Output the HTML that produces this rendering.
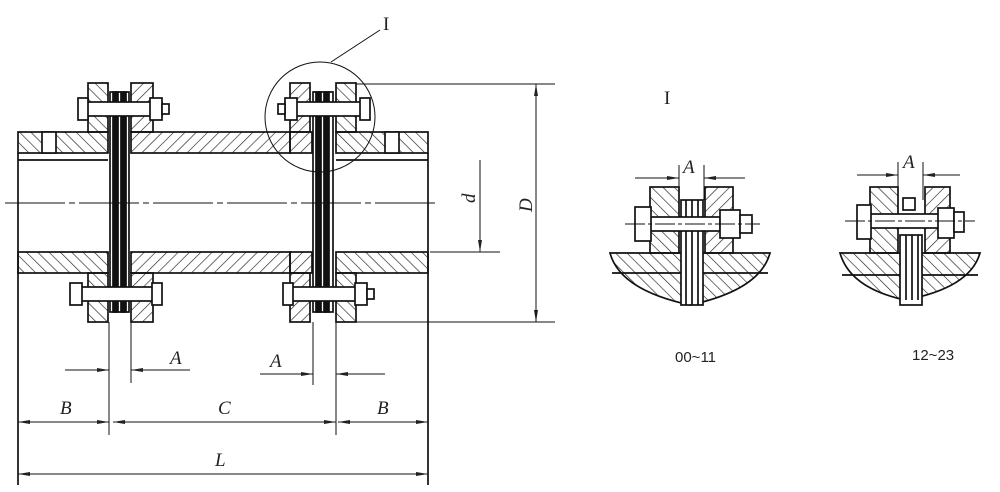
<!DOCTYPE html>
<html><head><meta charset="utf-8"><style>
html,body{margin:0;padding:0;background:#fff;}
svg{display:block;}
text{font-family:"Liberation Serif",serif;font-style:italic;font-size:19px;fill:#222;}
.n{font-style:normal;font-family:"Liberation Sans",sans-serif;font-size:15px;}
</style></head><body>
<svg width="1000" height="492" viewBox="0 0 1000 492" xmlns="http://www.w3.org/2000/svg">
<defs>
<pattern id="h" width="8" height="8" patternUnits="userSpaceOnUse" patternTransform="rotate(45)"><line x1="0" y1="0" x2="0" y2="8" stroke="#222" stroke-width="1.3"/></pattern>
<pattern id="h2" width="8" height="8" patternUnits="userSpaceOnUse" patternTransform="rotate(-45)"><line x1="0" y1="0" x2="0" y2="8" stroke="#222" stroke-width="1.3"/></pattern>
<marker id="a" markerWidth="12" markerHeight="6" refX="12" refY="3" orient="auto" markerUnits="userSpaceOnUse"><path d="M0,1 L12,3 L0,5z" fill="#222"/></marker>
</defs>
<g stroke="#111" stroke-width="1.7" fill="none">
<rect x="18" y="132" width="90" height="21" fill="url(#h2)"/>
<rect x="131" y="132" width="159" height="21" fill="url(#h)"/>
<rect x="336" y="132" width="92" height="21" fill="url(#h2)"/>
<rect x="18" y="252" width="90" height="21" fill="url(#h2)"/>
<rect x="131" y="252" width="159" height="21" fill="url(#h)"/>
<rect x="336" y="252" width="92" height="21" fill="url(#h2)"/>
<rect x="290" y="132" width="22" height="21" fill="url(#h)"/>
<rect x="290" y="252" width="22" height="21" fill="url(#h)"/>
<line x1="18" y1="160" x2="108" y2="160"/><line x1="336" y1="160" x2="428" y2="160"/>
<line x1="18" y1="153" x2="18" y2="485"/><line x1="428" y1="153" x2="428" y2="485"/>
<rect x="42" y="132" width="14" height="21" fill="#fff"/><rect x="385" y="132" width="14" height="21" fill="#fff"/>
<rect x="88" y="83" width="20" height="49" fill="url(#h2)"/>
<rect x="131" y="83" width="22" height="49" fill="url(#h)"/>
<rect x="290" y="83" width="20" height="49" fill="url(#h)"/>
<rect x="336" y="83" width="20" height="49" fill="url(#h2)"/>
<rect x="88" y="273" width="20" height="49" fill="url(#h2)"/>
<rect x="131" y="273" width="22" height="49" fill="url(#h)"/>
<rect x="290" y="273" width="20" height="49" fill="url(#h)"/>
<rect x="336" y="273" width="20" height="49" fill="url(#h2)"/>
<rect x="110" y="92" width="19" height="220" fill="#fff"/>
<rect x="113" y="92" width="5" height="220" fill="#111"/><rect x="121" y="92" width="5" height="220" fill="#111"/>
<rect x="313" y="92" width="20" height="220" fill="#fff"/>
<rect x="316" y="92" width="5" height="220" fill="#111"/><rect x="324" y="92" width="5" height="220" fill="#111"/>
<rect x="82" y="102" width="80" height="14" fill="#fff"/><rect x="78" y="98" width="10" height="22" fill="#fff"/><rect x="150" y="98" width="12" height="22" fill="#fff"/><rect x="162" y="104" width="7" height="10" fill="#fff"/>
<rect x="285" y="102" width="80" height="14" fill="#fff"/><rect x="360" y="98" width="10" height="22" fill="#fff"/><rect x="285" y="98" width="12" height="22" fill="#fff"/><rect x="278" y="104" width="7" height="10" fill="#fff"/>
<rect x="78" y="287" width="80" height="14" fill="#fff"/><rect x="70" y="283" width="12" height="22" fill="#fff"/><rect x="152" y="283" width="10" height="22" fill="#fff"/>
<rect x="290" y="287" width="70" height="14" fill="#fff"/><rect x="283" y="283" width="10" height="22" fill="#fff"/><rect x="355" y="283" width="12" height="22" fill="#fff"/><rect x="367" y="289" width="7" height="10" fill="#fff"/>
<line x1="5" y1="203" x2="435" y2="203" stroke-width="1" stroke-dasharray="60,4,6,4"/>
<circle cx="320" cy="117" r="55" stroke-width="1"/>
<line x1="331" y1="62" x2="380" y2="30" stroke-width="1"/>
<line x1="356" y1="84" x2="555" y2="84" stroke-width="1"/>
<line x1="356" y1="322" x2="555" y2="322" stroke-width="1"/>
<line x1="536" y1="84" x2="536" y2="322" stroke-width="1" marker-end="url(#a)" />
<line x1="536" y1="322" x2="536" y2="84" stroke-width="1" marker-end="url(#a)"/>
<line x1="430" y1="252" x2="500" y2="252" stroke-width="1"/>
<line x1="480" y1="160" x2="480" y2="252" stroke-width="1" marker-end="url(#a)"/>
<line x1="109" y1="322" x2="109" y2="435" stroke-width="1"/>
<line x1="131" y1="322" x2="131" y2="383" stroke-width="1"/>
<line x1="313" y1="322" x2="313" y2="385" stroke-width="1"/>
<line x1="336" y1="322" x2="336" y2="435" stroke-width="1"/>
<line x1="65" y1="370" x2="109" y2="370" stroke-width="1" marker-end="url(#a)"/>
<line x1="190" y1="370" x2="131" y2="370" stroke-width="1" marker-end="url(#a)"/>
<line x1="260" y1="374" x2="313" y2="374" stroke-width="1" marker-end="url(#a)"/>
<line x1="385" y1="374" x2="336" y2="374" stroke-width="1" marker-end="url(#a)"/>
<line x1="60" y1="422" x2="18" y2="422" stroke-width="1" marker-end="url(#a)"/>
<line x1="60" y1="422" x2="109" y2="422" stroke-width="1" marker-end="url(#a)"/>
<line x1="220" y1="422" x2="113" y2="422" stroke-width="1" marker-end="url(#a)"/>
<line x1="220" y1="422" x2="336" y2="422" stroke-width="1" marker-end="url(#a)"/>
<line x1="380" y1="422" x2="338" y2="422" stroke-width="1" marker-end="url(#a)"/>
<line x1="380" y1="422" x2="428" y2="422" stroke-width="1" marker-end="url(#a)"/>
<line x1="220" y1="474" x2="18" y2="474" stroke-width="1" marker-end="url(#a)"/>
<line x1="220" y1="474" x2="428" y2="474" stroke-width="1" marker-end="url(#a)"/>

<path d="M610,253 L770,253 Q760,290 690,305 Q620,290 610,253Z" fill="url(#h2)"/>
<path d="M612,273 L768,273" />
<rect x="650" y="187" width="29" height="66" fill="url(#h2)"/>
<rect x="705" y="187" width="28" height="66" fill="url(#h)"/>
<rect x="681" y="200" width="22" height="105" fill="#fff"/>
<line x1="686" y1="200" x2="686" y2="305"/><line x1="692" y1="200" x2="692" y2="305"/><line x1="698" y1="200" x2="698" y2="305"/>
<rect x="640" y="217" width="80" height="14" fill="#fff"/><rect x="635" y="207" width="16" height="34" fill="#fff"/><rect x="720" y="210" width="20" height="28" fill="#fff"/><rect x="740" y="215" width="12" height="18" fill="#fff"/>
<line x1="625" y1="224" x2="760" y2="224" stroke-width="1" stroke-dasharray="20,3,4,3"/>
<line x1="679" y1="165" x2="679" y2="200" stroke-width="1"/><line x1="704" y1="165" x2="704" y2="200" stroke-width="1"/>
<line x1="635" y1="178" x2="679" y2="178" stroke-width="1" marker-end="url(#a)"/>
<line x1="745" y1="178" x2="704" y2="178" stroke-width="1" marker-end="url(#a)"/>
<path d="M840,253 L980,253 Q970,288 905,300 Q850,288 840,253Z" fill="url(#h2)"/>
<path d="M842,275 L978,275"/>
<rect x="870" y="187" width="28" height="66" fill="url(#h2)"/>
<rect x="925" y="187" width="25" height="66" fill="url(#h)"/>
<rect x="900" y="235" width="22" height="70" fill="#fff"/>
<line x1="906" y1="235" x2="906" y2="300"/><line x1="912" y1="235" x2="912" y2="300"/><line x1="918" y1="235" x2="918" y2="300"/>
<rect x="903" y="198" width="12" height="12" fill="#fff"/>
<rect x="865" y="214" width="75" height="14" fill="#fff"/><rect x="857" y="205" width="14" height="34" fill="#fff"/><rect x="938" y="208" width="16" height="30" fill="#fff"/><rect x="954" y="212" width="10" height="20" fill="#fff"/>
<line x1="845" y1="221" x2="975" y2="221" stroke-width="1" stroke-dasharray="20,3,4,3"/>
<line x1="898" y1="162" x2="898" y2="200" stroke-width="1"/><line x1="923" y1="162" x2="923" y2="200" stroke-width="1"/>
<line x1="857" y1="175" x2="898" y2="175" stroke-width="1" marker-end="url(#a)"/>
<line x1="960" y1="175" x2="923" y2="175" stroke-width="1" marker-end="url(#a)"/>
</g>
<text x="383" y="30" style="font-style:normal">I</text>
<text x="664" y="104" style="font-style:normal">I</text>
<text x="170" y="364">A</text>
<text x="270" y="367">A</text>
<text x="60" y="414">B</text>
<text x="218" y="414">C</text>
<text x="377" y="414">B</text>
<text x="215" y="466">L</text>
<text x="462" y="200" transform="rotate(-90 470 195)">d</text>
<text x="518" y="212" transform="rotate(-90 525 205)">D</text>
<text x="683" y="173">A</text>
<text x="903" y="168">A</text>
<text class="n" x="675" y="362">00~11</text>
<text class="n" x="912" y="360">12~23</text>
</svg>
</body></html>
